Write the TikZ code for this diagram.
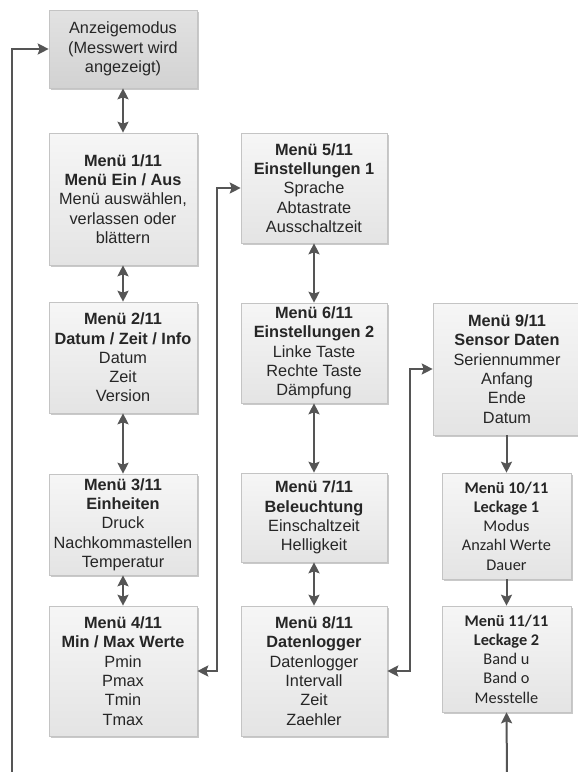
\documentclass[tikz,border=0pt]{standalone}
\usepackage{fontspec}
\setmainfont{Liberation Sans}
\newfontfamily\calfont{Carlito}
\usetikzlibrary{arrows.meta,shadows,calc}
\definecolor{boxborder}{HTML}{C4C4C4}
\definecolor{boxtop}{HTML}{F6F6F6}
\definecolor{boxbot}{HTML}{E4E4E4}
\definecolor{anztop}{HTML}{E2E2E2}
\definecolor{anzbot}{HTML}{D2D2D2}
\definecolor{arrowgray}{HTML}{555555}
\newcommand{\boxfont}{\fontsize{16.3}{19.3}\selectfont}
\begin{document}
\begin{tikzpicture}[x=1pt,y=-1pt,
  menubox/.style={draw=boxborder, line width=0.6pt, top color=boxtop, bottom color=boxbot,
    drop shadow={shadow xshift=1.5pt, shadow yshift=-1.8pt, opacity=0.35, fill=black!60},
    align=center, inner sep=0pt, font=\boxfont, text=black!85},
  anzbox/.style={menubox, top color=anztop, bottom color=anzbot},
  conn/.style={draw=arrowgray, line width=2pt, arrows={-Stealth[length=11pt,width=11pt,inset=2pt]}},
  biconn/.style={draw=arrowgray, line width=2pt, arrows={Stealth[length=11pt,width=11pt,inset=2pt]-Stealth[length=11pt,width=11pt,inset=2pt]}}
]
\clip (0,0) rectangle (578,772);
\fill[white] (0,0) rectangle (578,772);

\node[anzbox, minimum width=148pt, minimum height=78pt] (anz) at (123,49)
  {Anzeigemodus\\(Messwert wird\\angezeigt)};
\node[menubox, minimum width=148pt, minimum height=132pt] (m1) at (123,199)
  {\textbf{Menü 1/11}\\\textbf{Menü Ein / Aus}\\Menü auswählen,\\verlassen oder\\blättern};
\node[menubox, minimum width=148pt, minimum height=111pt] (m2) at (123,357.5)
  {\textbf{Menü 2/11}\\\textbf{Datum / Zeit / Info}\\Datum\\Zeit\\Version};
\node[menubox, minimum width=148pt, minimum height=101pt] (m3) at (123,524.5)
  {\textbf{Menü 3/11}\\\textbf{Einheiten}\\Druck\\Nachkommastellen\\Temperatur};
\node[menubox, minimum width=148pt, minimum height=130pt] (m4) at (123,671)
  {\textbf{Menü 4/11}\\\textbf{Min / Max Werte}\\Pmin\\Pmax\\Tmin\\Tmax};

\node[menubox, minimum width=146pt, minimum height=110pt] (m5) at (314,188)
  {\textbf{Menü 5/11}\\\textbf{Einstellungen 1}\\Sprache\\Abtastrate\\Ausschaltzeit};
\node[menubox, minimum width=146pt, minimum height=100pt] (m6) at (314,353)
  {\textbf{Menü 6/11}\\\textbf{Einstellungen 2}\\Linke Taste\\Rechte Taste\\Dämpfung};
\node[menubox, minimum width=146pt, minimum height=89pt] (m7) at (314,517.5)
  {\textbf{Menü 7/11}\\\textbf{Beleuchtung}\\Einschaltzeit\\Helligkeit};
\node[menubox, minimum width=146pt, minimum height=130pt] (m8) at (314,671)
  {\textbf{Menü 8/11}\\\textbf{Datenlogger}\\Datenlogger\\Intervall\\Zeit\\Zaehler};

\node[menubox, minimum width=148pt, minimum height=132pt] (m9) at (507,369)
  {\textbf{Menü 9/11}\\\textbf{Sensor Daten}\\Seriennummer\\Anfang\\Ende\\Datum};
\node[menubox, minimum width=129pt, minimum height=106pt, font=\calfont\boxfont] (m10) at (506.5,526)
  {\textbf{Menü 10/11}\\\textbf{Leckage 1}\\Modus\\Anzahl Werte\\Dauer};
\node[menubox, minimum width=129pt, minimum height=106pt, font=\calfont\boxfont] (m11) at (506.5,659)
  {\textbf{Menü 11/11}\\\textbf{Leckage 2}\\Band u\\Band o\\Messtelle};

\coordinate (loopL) at (12,775);
\coordinate (loopR) at (507,775);

\draw[conn] (loopL) |- (anz.west);
\draw[biconn] (anz.south) -- (m1.north);
\draw[biconn] (m1.south) -- (m2.north);
\draw[biconn] (m2.south) -- (m3.north);
\draw[biconn] (m3.south) -- (m4.north);
\draw[biconn] (m4.east) -- ++(20,0) |- (m5.west);
\draw[biconn] (m5.south) -- (m6.north);
\draw[biconn] (m6.south) -- (m7.north);
\draw[biconn] (m7.south) -- (m8.north);
\draw[biconn] (m8.east) -- ++(23,0) |- (m9.west);
\draw[conn] (m9.south -| m10.north) -- (m10.north);
\draw[conn] (m10.south) -- (m11.north);
\draw[conn] (loopR) -- (m11.south);
\end{tikzpicture}
\end{document}
